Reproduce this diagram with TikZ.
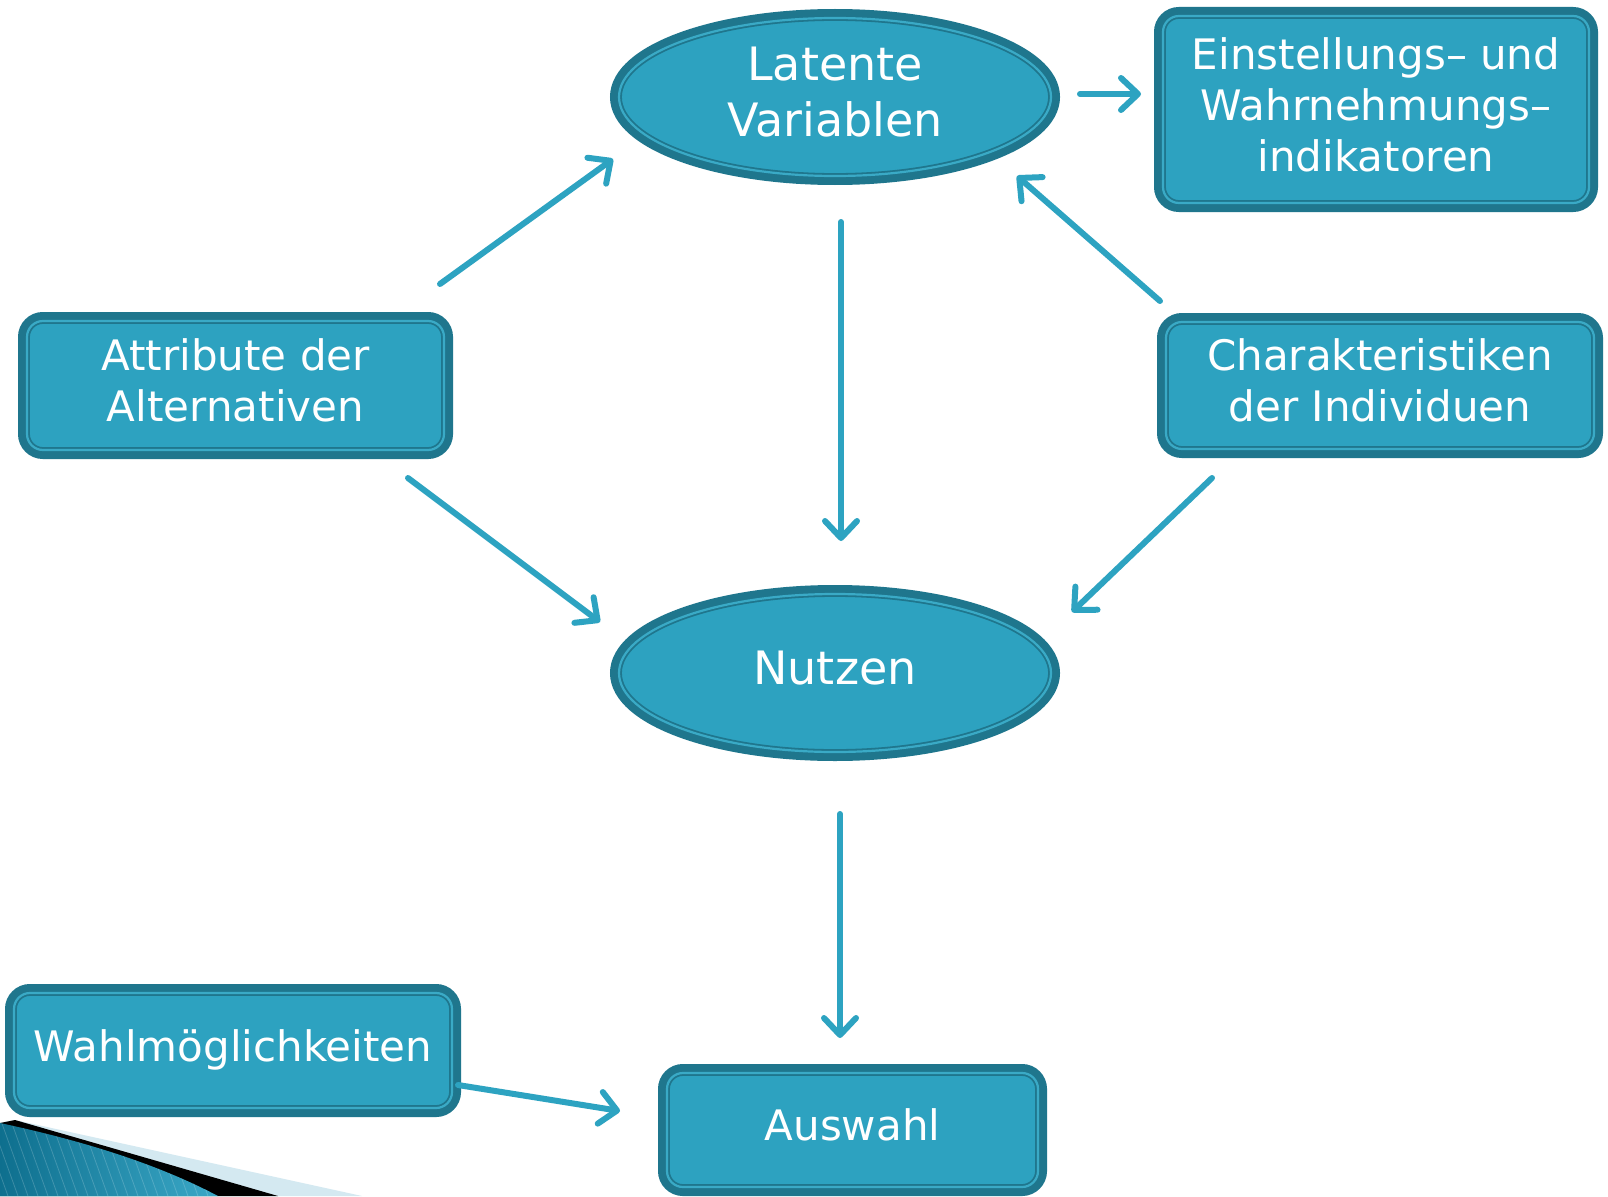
\documentclass[tikz,border=0pt]{standalone}
\usepackage{fontspec}
\setmainfont{DejaVu Sans}
\usetikzlibrary{arrows.meta,shapes.geometric}
\definecolor{fillc}{HTML}{2DA2C0}
\definecolor{edgec}{HTML}{1F768D}
\definecolor{litec}{HTML}{3AAAC6}
\definecolor{arrc}{HTML}{2DA3C1}
\definecolor{palec}{HTML}{D4E9F1}
\definecolor{decdark}{HTML}{0E6F8E}
\definecolor{declite}{HTML}{3BA9C8}
\newcommand\lowpad{\rule[-10pt]{0pt}{10pt}}
\tikzset{
  frame/.style={fill=fillc, draw=edgec, line width=1.8pt, double=litec, double distance=2.2pt,
    preaction={draw=edgec, line width=18pt}, text=white},
  boxnode/.style={frame, rectangle, rounded corners=16pt, inner sep=0pt, align=center,
    font=\fontsize{42}{51}\selectfont},
  ellnode/.style={frame, ellipse, inner sep=0pt, align=center,
    font=\fontsize{46}{56}\selectfont},
  conn/.style={draw=arrc, line width=6pt, line cap=round,
    -{Straight Barb[length=17pt,width=32pt,round]}},
}
\begin{document}
\begin{tikzpicture}[x=1pt,y=-1pt]
\useasboundingbox[fill=white] (0,0) rectangle (1608,1196);

% decoration bottom left
\fill[palec] (15,1120) -- (362,1196) -- (0,1196) -- (0,1123) -- cycle;
\fill[black] (15,1120) -- (278,1196) -- (0,1196) -- (0,1123) -- cycle;
\begin{scope}
  \clip (0,1123) .. controls (70,1138) and (150,1160) .. (218,1196) -- (0,1196) -- cycle;
  \shade[left color=decdark, right color=declite] (0,1118) rectangle (222,1196);
  \foreach \i in {-40,-30,...,230}
    \draw[white, opacity=0.18, line width=0.8pt] (\i,1118) -- (\i+28,1196);
\end{scope}

% nodes
\node[ellnode, minimum width=432pt, minimum height=158pt] (lat) at (835,97) {Latente\\Variablen\lowpad};
\node[ellnode, minimum width=432pt, minimum height=158pt] (nut) at (835,673) {Nutzen\lowpad};
\node[boxnode, minimum width=426pt, minimum height=187pt] (ein) at (1376,109.5) {Einstellungs– und\\Wahrnehmungs–\\indikatoren\lowpad};
\node[boxnode, minimum width=417pt, minimum height=129pt] (att) at (235.5,385.5) {Attribute der\\Alternativen\lowpad};
\node[boxnode, minimum width=428pt, minimum height=127pt] (cha) at (1380,385.5) {Charakteristiken\\der Individuen\lowpad};
\node[boxnode, minimum width=438pt, minimum height=115pt] (wah) at (233,1050.5) {Wahlmöglichkeiten\lowpad};
\node[boxnode, minimum width=371pt, minimum height=114pt] (aus) at (852.5,1130) {Auswahl\lowpad};

% connector end points
\coordinate (attTop) at (440,284);   \coordinate (latL) at (613,159);
\coordinate (chaTop) at (1160,301);  \coordinate (latR) at (1017,176);
\coordinate (latE) at (1080,94);     \coordinate (einW) at (1141,94);
\coordinate (latB) at (841,222);     \coordinate (nutT) at (841,541);
\coordinate (attBot) at (408,478);   \coordinate (nutL) at (600,622);
\coordinate (chaBot) at (1212,478);  \coordinate (nutR) at (1072,612);
\coordinate (nutB) at (840,814);     \coordinate (ausT) at (840,1038);
\coordinate (wahE) at (458,1085);    \coordinate (ausW) at (620,1111);

\draw[conn] (attTop) -- (latL);
\draw[conn] (chaTop) -- (latR);
\draw[conn] (latE) -- (einW);
\draw[conn] (latB) -- (nutT);
\draw[conn] (attBot) -- (nutL);
\draw[conn] (chaBot) -- (nutR);
\draw[conn] (nutB) -- (ausT);
\draw[conn] (wahE) -- (ausW);
\end{tikzpicture}
\end{document}
